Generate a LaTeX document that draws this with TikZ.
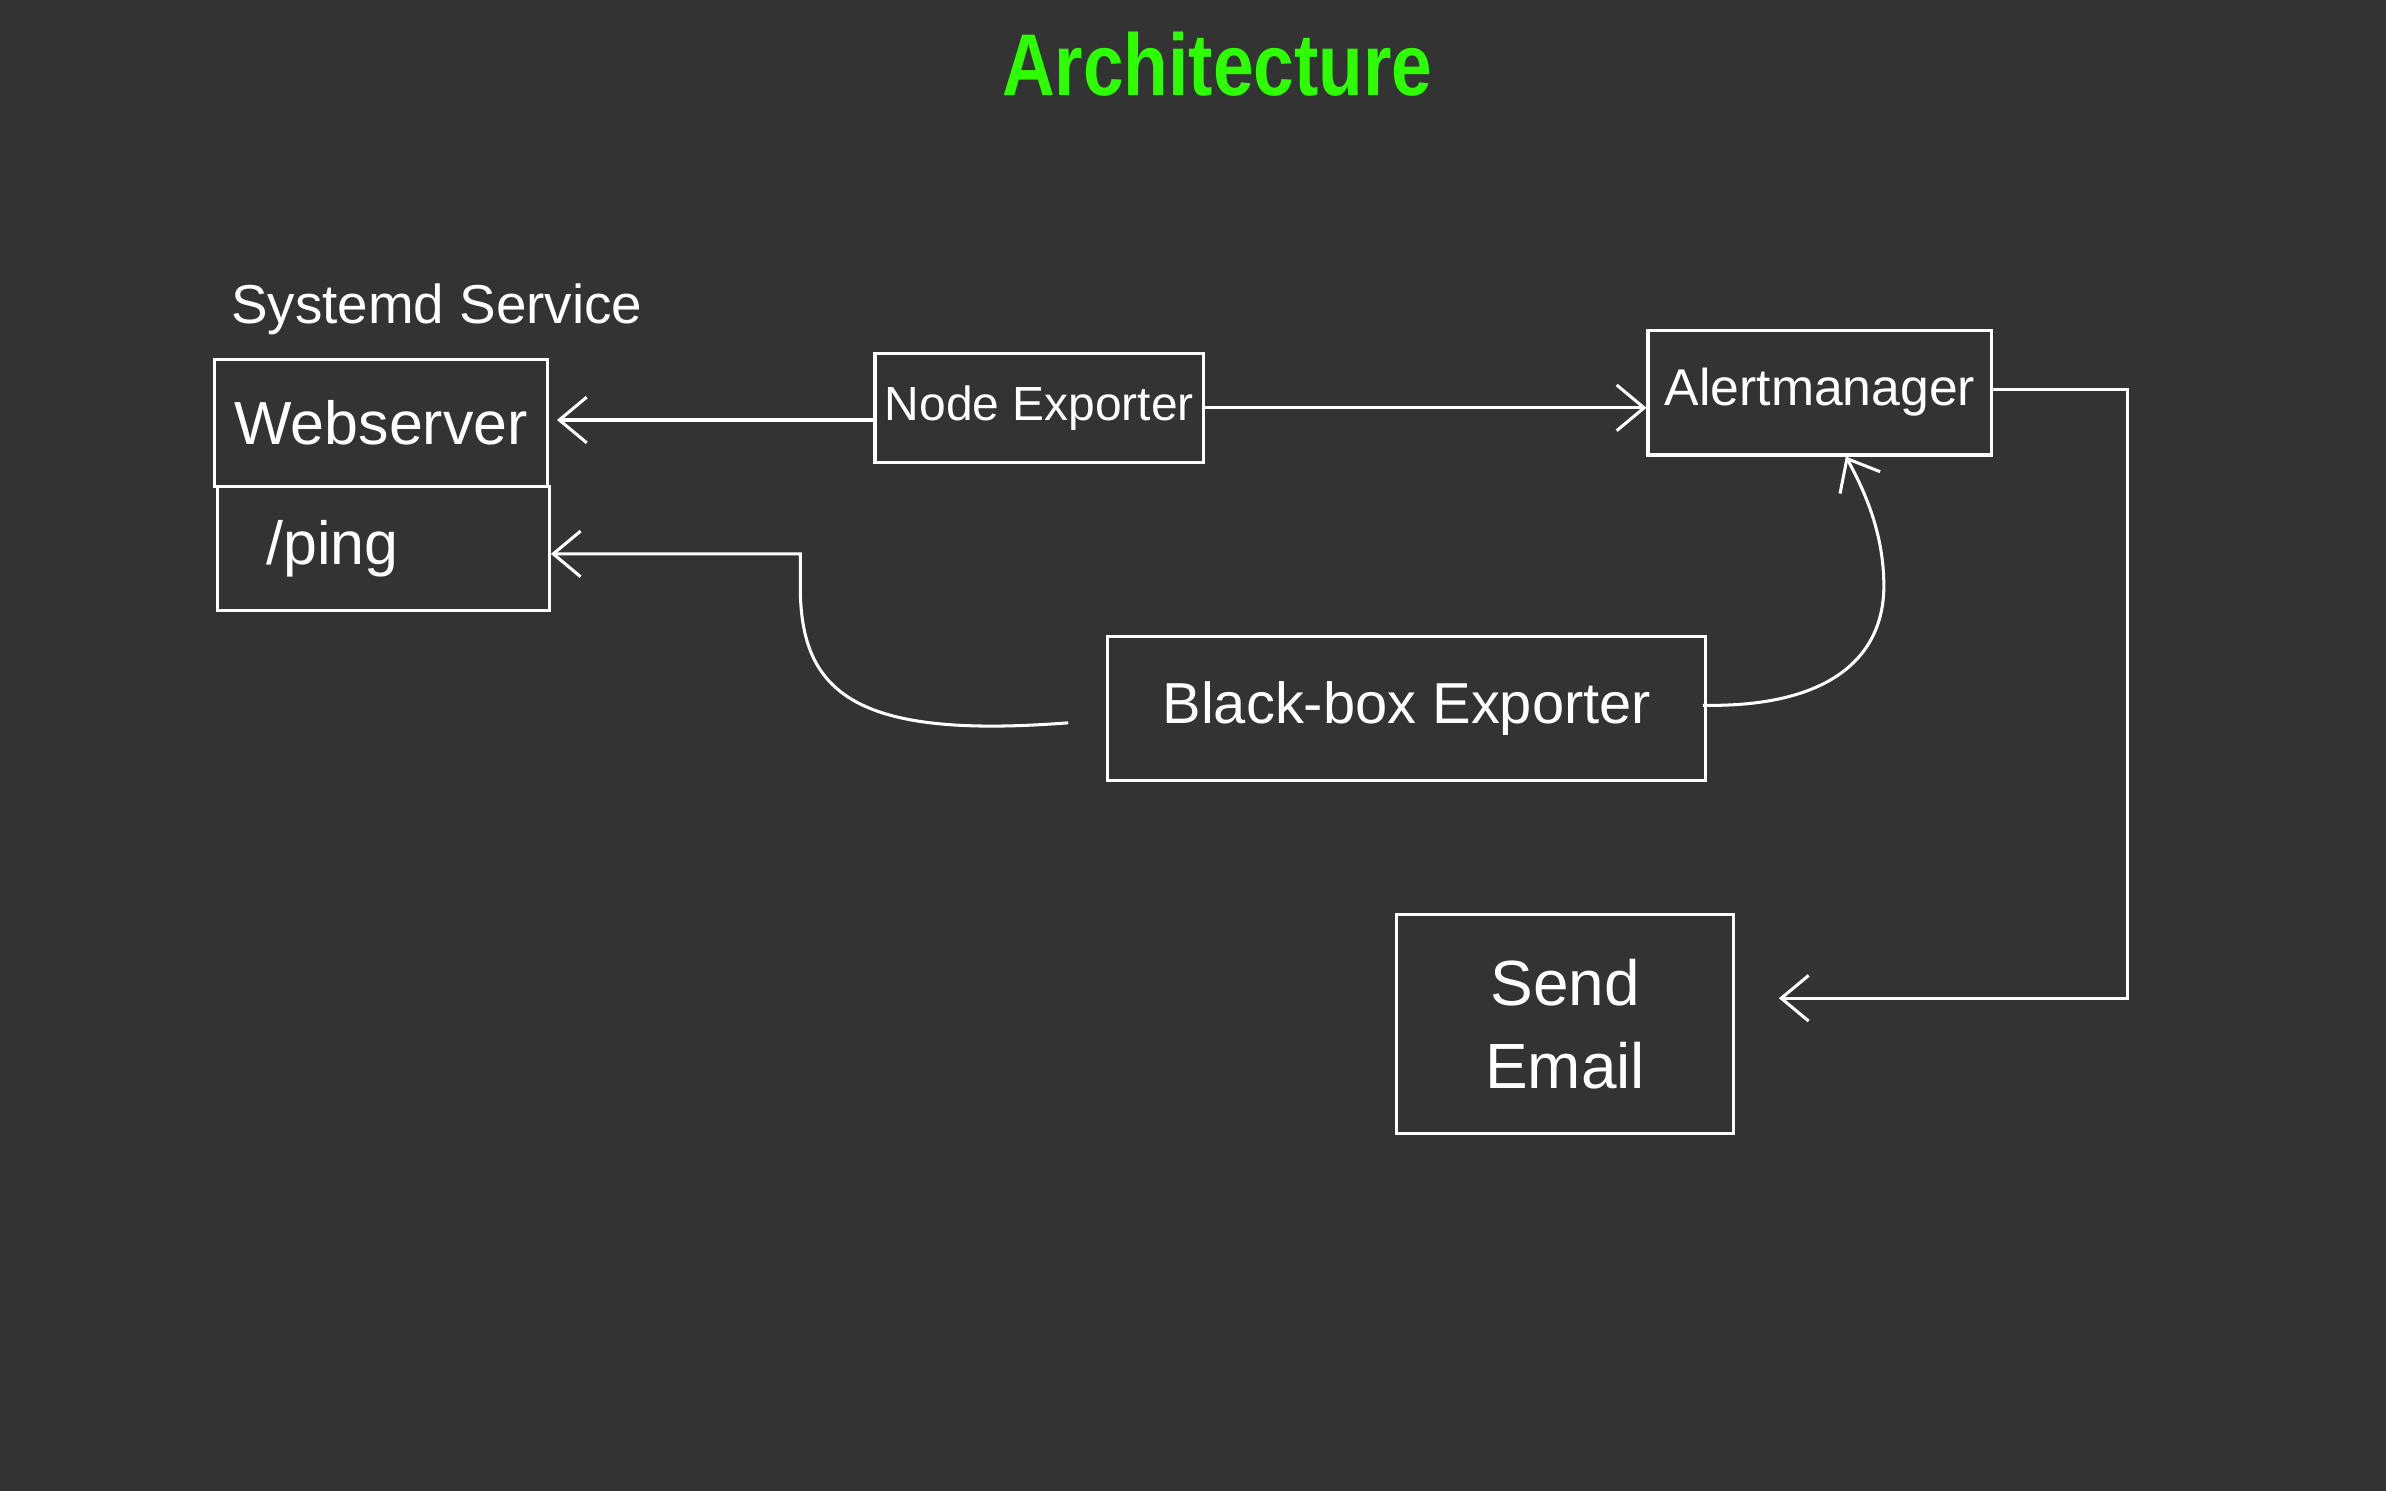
\documentclass[tikz,border=0pt]{standalone}
\usepackage{fontspec}
\setmainfont{Liberation Sans}
\usetikzlibrary{arrows.meta}
\definecolor{bg}{HTML}{333333}
\definecolor{titlegreen}{RGB}{45,255,0}
\begin{document}
\begin{tikzpicture}[x=1pt,y=-1pt,
  box/.style={draw=white, line width=2pt, text=white, inner sep=0pt},
  lbl/.style={text=white, inner sep=0pt},
  conn/.style={draw=white, line width=2pt, -{Straight Barb[length=18pt,width=30pt,line width=2pt]}}]
\fill[bg] (0,0) rectangle (1568,979.8);
\useasboundingbox (0,0) rectangle (1568,979.8);

\node[text=titlegreen, font=\fontsize{48}{56}\selectfont\bfseries, yscale=1.2, transform shape] (title) at (800,42) {Architecture};
\node[lbl, font=\fontsize{36}{42}\selectfont] (sys) at (287,203) {Systemd Service};

\node[box, minimum width=219pt, minimum height=84pt, font=\fontsize{40}{48}\selectfont] (web) at (250.5,278) {Webserver};
\node[box, minimum height=81pt, text width=154pt, inner xsep=32pt, align=left, font=\fontsize{40}{48}\selectfont] (ping) at (252,360.5) {/ping};
\node[box, minimum width=216pt, minimum height=72pt, font=\fontsize{31.5}{38}\selectfont] (ne) at (683,268) {Node Exporter};
\node[box, minimum width=226pt, minimum height=82pt, font=\fontsize{34}{40}\selectfont] (am) at (1196,258) {Alertmanager};
\node[box, minimum width=393pt, minimum height=95pt, font=\fontsize{38}{44}\selectfont] (bb) at (924.5,465.5) {Black-box Exporter};
\node[box, minimum width=221pt, minimum height=144pt, align=center, font=\fontsize{42}{54}\selectfont] (email) at (1028.5,673) {Send\\Email};

% Node Exporter -> Webserver
\coordinate (p1) at ([yshift=-8pt]ne.west);
\draw[conn, shorten >=5pt] (p1) -- (p1 -| web.east);
% Node Exporter -> Alertmanager
\draw[conn] (ne.east) -- (ne.east -| am.west);
% Alertmanager -> Send Email
\coordinate (c1) at (1398,656);
\draw[conn, shorten >=29pt] ([yshift=2pt]am.east) -| (c1) -- (c1 -| email.east);
% Black-box -> /ping
\coordinate (s1) at ([xshift=-25pt,yshift=-9.5pt]bb.west);
\coordinate (k1) at (526,364);
\draw[conn] (s1) .. controls (560,486) and (524,455) .. (526,380) -- (k1) -- (k1 -| ping.east);
% Black-box -> Alertmanager
\coordinate (s2) at ([xshift=-3pt,yshift=2pt]bb.east);
\coordinate (t2) at ([xshift=17pt]am.south);
\draw[conn] (s2) .. controls (1205,465) and (1238,430) .. (1238,385) .. controls (1238,350) and (1225,322) .. (t2);
\end{tikzpicture}
\end{document}
